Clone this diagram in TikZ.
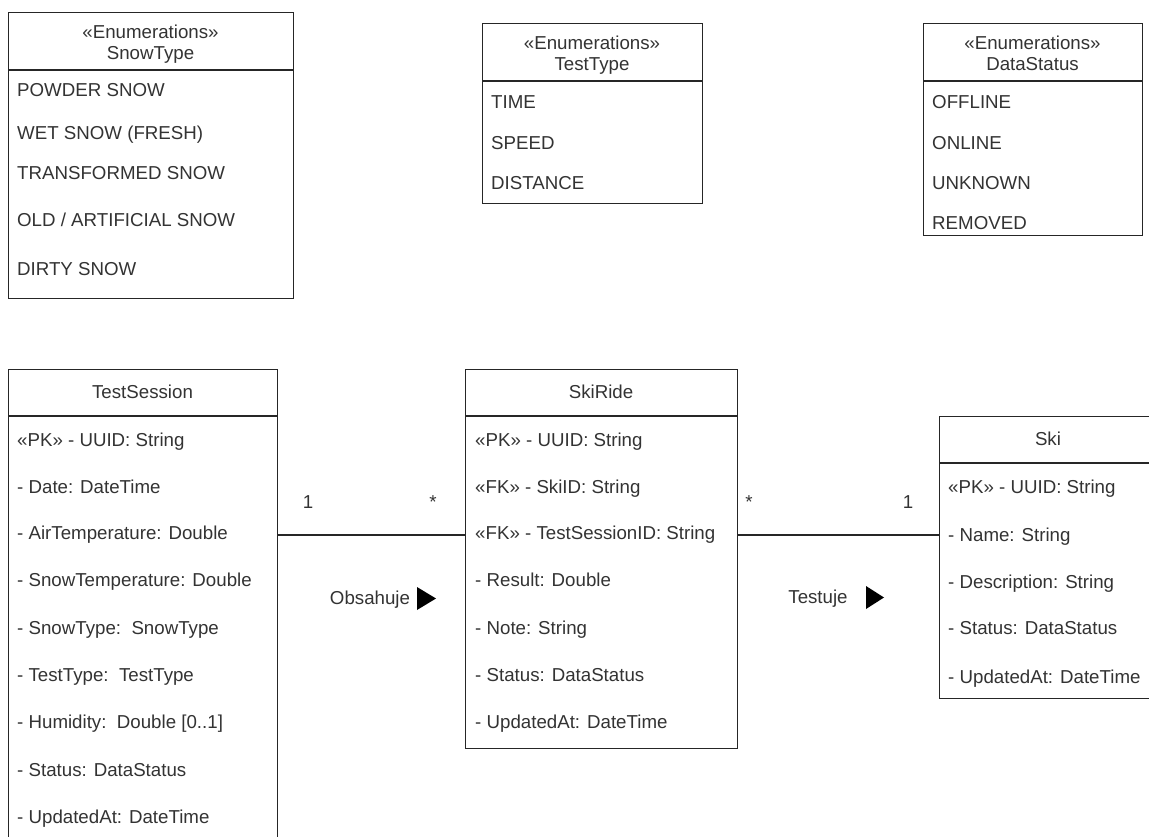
\documentclass[tikz,border=0pt]{standalone}
\usepackage{fontspec}
\setmainfont{Liberation Sans}
\begin{document}
\begin{tikzpicture}[x=1pt,y=-1pt,
  box/.style={draw=black!85,line width=1.2pt,anchor=north west,inner sep=0pt},
  sep/.style={draw=black!85,line width=1.2pt},
  conn/.style={draw=black!85,line width=1.2pt},
  item/.style={anchor=base west,inner sep=0pt,text=black!80,font=\fontsize{18.7}{22}\selectfont},
  head/.style={anchor=base,inner sep=0pt,text=black!80,font=\fontsize{18.7}{22}\selectfont},
  lbl/.style={anchor=base,inner sep=0pt,text=black!80,font=\fontsize{18.7}{22}\selectfont},
  tri/.style={fill=black,draw=none}]
\useasboundingbox (0,0) rectangle (1149,837);
\clip (0,0) rectangle (1149,837);
\fill[white] (0,0) rectangle (1149,837);

% ---------- SnowType ----------
\node[box,minimum width=285pt,minimum height=286pt] (st) at (8,12) {};
\draw[sep] (8,70) -- (293,70);
\node[head] (sth1) at (150.5,38.5) {«Enumerations»};
\node[head] (sth2) at (150.5,59.5) {SnowType};
\node[item] (st1) at (17,96.7) {POWDER SNOW};
\node[item] (st2) at (17,139.7) {WET SNOW (FRESH)};
\node[item] (st3) at (17,179.7) {TRANSFORMED SNOW};
\node[item] (st4) at (17,226.7) {OLD / ARTIFICIAL SNOW};
\node[item] (st5) at (17,275.7) {DIRTY SNOW};

% ---------- TestType ----------
\node[box,minimum width=220pt,minimum height=180pt] (tt) at (482,23) {};
\draw[sep] (482,81) -- (702,81);
\node[head] (tth1) at (592,49.5) {«Enumerations»};
\node[head] (tth2) at (592,70.5) {TestType};
\node[item] (tt1) at (491,108.7) {TIME};
\node[item] (tt2) at (491,149.7) {SPEED};
\node[item] (tt3) at (491,189.7) {DISTANCE};

% ---------- DataStatus ----------
\node[box,minimum width=219pt,minimum height=212pt] (ds) at (923,23) {};
\draw[sep] (923,81) -- (1142,81);
\node[head] (dsh1) at (1032.5,49.5) {«Enumerations»};
\node[head] (dsh2) at (1032.5,70.5) {DataStatus};
\node[item] (ds1) at (932,108.7) {OFFLINE};
\node[item] (ds2) at (932,149.7) {ONLINE};
\node[item] (ds3) at (932,189.7) {UNKNOWN};
\node[item] (ds4) at (932,229.7) {REMOVED};

% ---------- TestSession ----------
\node[box,minimum width=269pt,minimum height=490pt] (ts) at (8,369) {};
\draw[sep] (8,416) -- (277,416);
\node[head] (tsh) at (142.5,398.5) {TestSession};
\node[item] (ts1) at (17,446.7) {«PK» - UUID: String};
\node[item] (ts2) at (17,493.7) {- Date: DateTime};
\node[item] (ts3) at (17,539.7) {- AirTemperature: Double};
\node[item] (ts4) at (17,586.7) {- SnowTemperature: Double};
\node[item] (ts5) at (17,634.7) {- SnowType:\ \ SnowType};
\node[item] (ts6) at (17,681.7) {- TestType:\ \ TestType};
\node[item] (ts7) at (17,728.7) {- Humidity:\ \ Double [0..1]};
\node[item] (ts8) at (17,776.7) {- Status: DataStatus};
\node[item] (ts9) at (17,823.7) {- UpdatedAt: DateTime};

% ---------- SkiRide ----------
\node[box,minimum width=272pt,minimum height=379pt] (sr) at (465,369) {};
\draw[sep] (465,416) -- (737,416);
\node[head] (srh) at (601,398.5) {SkiRide};
\node[item] (sr1) at (475,446.7) {«PK» - UUID: String};
\node[item] (sr2) at (475,493.7) {«FK» - SkiID: String};
\node[item] (sr3) at (475,539.7) {«FK» - TestSessionID: String};
\node[item] (sr4) at (475,586.7) {- Result: Double};
\node[item] (sr5) at (475,634.7) {- Note: String};
\node[item] (sr6) at (475,681.7) {- Status: DataStatus};
\node[item] (sr7) at (475,728.7) {- UpdatedAt: DateTime};

% ---------- Ski ----------
\node[box,minimum width=220pt,minimum height=282pt] (ski) at (939,416) {};
\draw[sep] (939,463) -- (1159,463);
\node[head] (skih) at (1048,445.5) {Ski};
\node[item] (ski1) at (948,493.7) {«PK» - UUID: String};
\node[item] (ski2) at (948,541.7) {- Name: String};
\node[item] (ski3) at (948,588.7) {- Description: String};
\node[item] (ski4) at (948,634.7) {- Status: DataStatus};
\node[item] (ski5) at (948,683.7) {- UpdatedAt: DateTime};

% ---------- Associations ----------
\draw[conn] (ts.east |- 0,535) -- (sr.west |- 0,535);
\draw[conn] (sr.east |- 0,535) -- (ski.west |- 0,535);

\node[lbl] (m1) at (308,508.5) {1};
\node[lbl] (m2) at (433,508.5) {*};
\node[lbl] (m3) at (749,508.5) {*};
\node[lbl] (m4) at (908,508.5) {1};

\node[lbl] (a1) at (370,604.5) {Obsahuje};
\fill[tri] (417,587) -- (436,598.5) -- (417,610) -- cycle;
\node[lbl] (a2) at (818,603.5) {Testuje};
\fill[tri] (866,586) -- (884,597.5) -- (866,609) -- cycle;
\end{tikzpicture}
\end{document}
